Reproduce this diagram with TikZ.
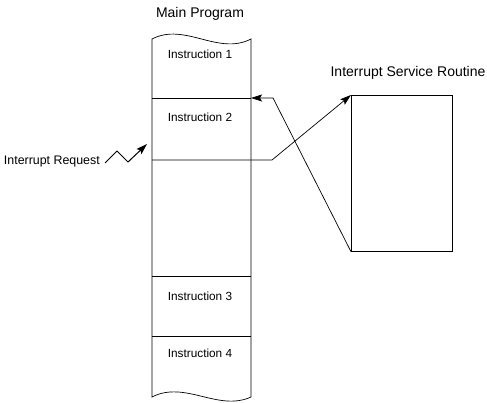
\documentclass[tikz,border=0pt]{standalone}
\usepackage{fontspec}
\setmainfont{Liberation Sans}
\usetikzlibrary{arrows.meta}
\begin{document}
\begin{tikzpicture}[x=1pt,y=-1pt,
  line/.style={line width=0.7pt},
  arr/.style={line, -{Stealth[length=11pt,width=7pt,inset=2pt]}},
  lbl/.style={inner sep=0pt, font=\fontsize{11.8}{13}\selectfont},
  title/.style={inner sep=0pt, font=\fontsize{14}{16}\selectfont}]
\useasboundingbox (0,0) rectangle (487,403);

% main program column with torn top and bottom edges
\coordinate (tl) at (152,39);
\coordinate (tr) at (251,39);
\coordinate (bl) at (152,397);
\coordinate (br) at (251,397);
\draw[line] (tl) .. controls (185,22) and (218,56) .. (tr) -- (br)
  .. controls (218,412) and (185,380) .. (bl) -- cycle;

% dividers between instructions
\coordinate (d1l) at (152,98);  \coordinate (d1r) at (251,98);
\coordinate (d2l) at (152,160); \coordinate (d2r) at (251,160);
\coordinate (d3l) at (152,276); \coordinate (d3r) at (251,276);
\coordinate (d4l) at (152,336); \coordinate (d4r) at (251,336);
\draw[line] (d1l) -- (d1r);
\draw[line] (d3l) -- (d3r);
\draw[line] (d4l) -- (d4r);

\node[title] (mp) at (200,14) {Main Program};
\node[lbl] (i1) at (200,54) {Instruction 1};
\node[lbl] (i2) at (200,117) {Instruction 2};
\node[lbl] (i3) at (200,296) {Instruction 3};
\node[lbl] (i4) at (200,353) {Instruction 4};

% interrupt service routine
\node[draw, line, minimum width=101pt, minimum height=156pt, inner sep=0pt,
  anchor=north west] (isr) at (351,95) {};
\node[title] (isrl) at (408,73) {Interrupt Service Routine};

% jump to the routine and return
\coordinate (out) at (272,160);
\draw[arr] (d2l) -- (out) -- (isr.north west);
\coordinate (ret) at (273,98);
\draw[arr] (isr.south west) -- (ret) -- (d1r);

% interrupt request signal
\node[inner sep=0pt, font=\fontsize{12.4}{14}\selectfont, anchor=east] (irq) at (100,162) {Interrupt Request};
\coordinate (z0) at (105,163);
\coordinate (z1) at (117,151);
\coordinate (z2) at (128,162);
\coordinate (z3) at (147,144);
\draw[arr, line width=1pt] (z0) -- (z1) -- (z2) -- (z3);
\end{tikzpicture}
\end{document}
